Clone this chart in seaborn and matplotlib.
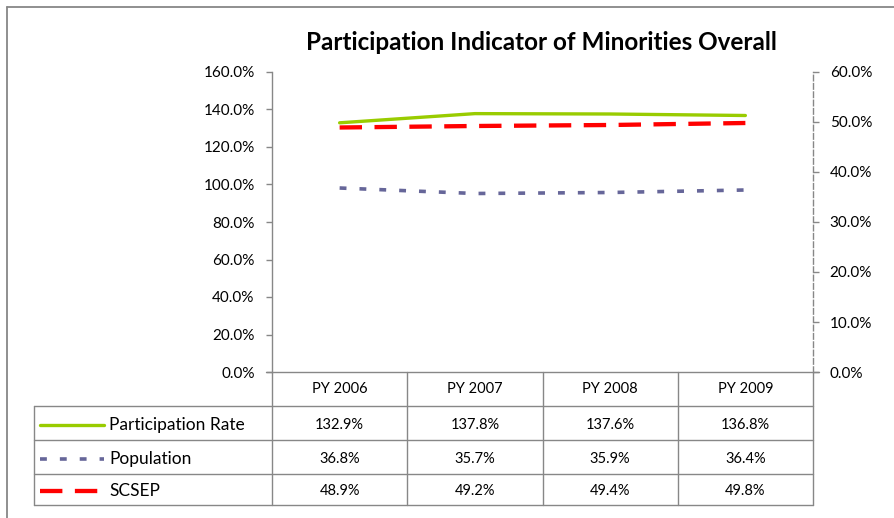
import numpy as np
import pandas as pd
import matplotlib
matplotlib.use("Agg")
import matplotlib.pyplot as plt
from matplotlib.lines import Line2D
import seaborn as sns

# ---- data ----
categories = ["PY 2006", "PY 2007", "PY 2008", "PY 2009"]
participation_rate = [132.9, 137.8, 137.6, 136.8]   # left axis
population = [36.8, 35.7, 35.9, 36.4]               # right axis
scsep = [48.9, 49.2, 49.4, 49.8]                    # right axis
series_names = ["Participation Rate", "Population", "SCSEP"]
left_ticks = [0, 20, 40, 60, 80, 100, 120, 140, 160]
right_ticks = [0, 10, 20, 30, 40, 50, 60]
title = "Participation Indicator of Minorities Overall"

sns.set_theme(style="white")
FONT = ["Lato", "DejaVu Sans"]
plt.rcParams["font.family"] = FONT

W, H = 894, 518
fig = plt.figure(figsize=(W / 100, H / 100), dpi=100)
fig.patch.set_facecolor("white")

def fx(px):
    return px / W

def fy(py):
    return 1 - py / H

AX_L, AX_R, AX_T, AX_B = 272, 813, 72, 372
ax = fig.add_axes([fx(AX_L), fy(AX_B), fx(AX_R) - fx(AX_L), fy(AX_T) - fy(AX_B)])
ax2 = ax.twinx()

GREEN = "#99CC00"
PURPLE = "#666699"
RED = "#FF0000"
GRAY = "#878787"

df = pd.DataFrame({"x": np.arange(len(categories)),
                   "pr": participation_rate, "pop": population, "sc": scsep})

sns.lineplot(data=df, x="x", y="pr", ax=ax, color=GREEN, linewidth=2.4, zorder=3)
sns.lineplot(data=df, x="x", y="pop", ax=ax2, color=PURPLE, linewidth=2.6,
             linestyle=(0, (1.9, 3.6)), zorder=3)
sns.lineplot(data=df, x="x", y="sc", ax=ax2, color=RED, linewidth=3.1,
             linestyle=(0, (5.2, 2.9)), zorder=3)

for a in (ax, ax2):
    a.set_xlim(-0.5, len(categories) - 0.5)
    a.set_xlabel("")
    a.set_ylabel("")
    a.set_xticks([])
    a.patch.set_alpha(0)
    for s in a.spines.values():
        s.set_visible(False)

TICK_FS = 11
ax.set_ylim(0, 160)
ax.set_yticks(left_ticks)
ax.set_yticklabels([f"{v:.1f}%" for v in left_ticks], fontsize=TICK_FS, color="black")
ax.spines["left"].set_visible(True)
ax.spines["left"].set_color(GRAY)
ax.spines["left"].set_linewidth(1)
ax.tick_params(axis="y", which="both", left=True, direction="out", length=4,
               width=1, color=GRAY, pad=8.5)

ax2.set_ylim(0, 60)
ax2.set_yticks(right_ticks)
ax2.set_yticklabels([f"{v:.1f}%" for v in right_ticks], fontsize=TICK_FS, color="black")
ax2.spines["right"].set_visible(True)
ax2.spines["right"].set_color(GRAY)
ax2.spines["right"].set_linewidth(1)
ax2.spines["right"].set_linestyle((0, (4, 2)))
ax2.tick_params(axis="y", which="both", right=True, direction="out", length=4,
                width=1, color=GRAY, pad=8)

# title
fig.text(fx(541.5), fy(43), title, ha="center", va="center", fontsize=17.5,
         fontweight="bold", color="black")

# ---- data table ----
def hline(x0, x1, y, **kw):
    fig.add_artist(Line2D([fx(x0), fx(x1)], [fy(y), fy(y)], color=GRAY, lw=1, **kw))

def vline(x, y0, y1, **kw):
    fig.add_artist(Line2D([fx(x), fx(x)], [fy(y0), fy(y1)], color=GRAY, lw=1, **kw))

TBL_L = 34
row_lines = [406, 440, 474, 505]
col_w = (AX_R - AX_L) / len(categories)
col_edges = [AX_L + i * col_w for i in range(len(categories) + 1)]

# bottom axis line (category axis)
hline(AX_L - 6, AX_R + 6, AX_B)
for y in row_lines:
    hline(TBL_L, AX_R, y)
vline(TBL_L, row_lines[0], row_lines[-1])
for i, x in enumerate(col_edges):
    vline(x, AX_B, row_lines[-1])

# header
for i, c in enumerate(categories):
    fig.text(fx(col_edges[i] + col_w / 2), fy(389), c, ha="center", va="center",
             fontsize=10.5, color="black")

row_centers = [425, 459, 491]
values = [participation_rate, population, scsep]
for r, vals in enumerate(values):
    for i, v in enumerate(vals):
        fig.text(fx(col_edges[i] + col_w / 2), fy(row_centers[r]), f"{v:.1f}%",
                 ha="center", va="center", fontsize=10.5, color="black")

# legend keys
styles = [dict(color=GREEN, lw=2.4, ls="-"),
          dict(color=PURPLE, lw=2.6, ls=(0, (1.9, 3.6))),
          dict(color=RED, lw=3.1, ls=(0, (5.2, 2.9)))]
for r, name in enumerate(series_names):
    st = styles[r]
    fig.add_artist(Line2D([fx(40), fx(104)], [fy(row_centers[r]), fy(row_centers[r])],
                          color=st["color"], lw=st["lw"], linestyle=st["ls"]))
    fig.text(fx(109), fy(row_centers[r]), name, ha="left", va="center",
             fontsize=12.5, color="black")

# outer border (top and left edges visible in the crop)
fig.add_artist(Line2D([fx(7), 1], [fy(7), fy(7)], color=GRAY, lw=1.3))
fig.add_artist(Line2D([fx(7), fx(7)], [fy(7), 0], color=GRAY, lw=1.3))

fig.savefig("out.png", dpi=100, facecolor="white")
